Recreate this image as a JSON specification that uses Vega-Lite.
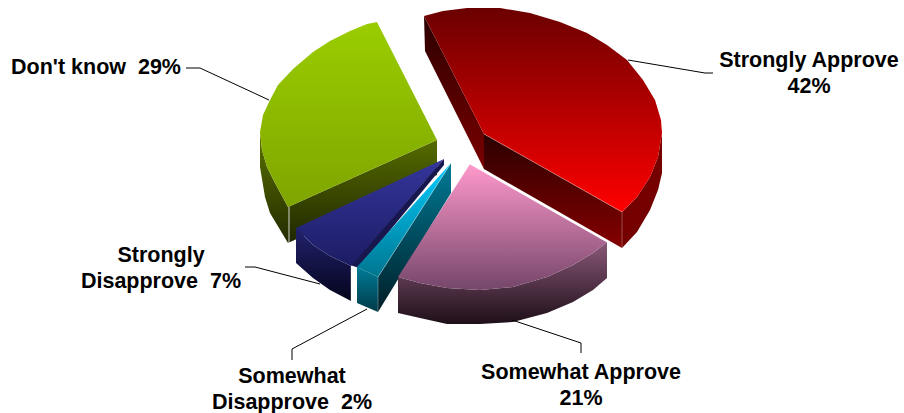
{
  "$schema": "https://vega.github.io/schema/vega-lite/v6.json",
  "autosize": {"type": "none"},
  "padding": 0,
  "width": 904,
  "height": 413,
  "background": "white",
  "config": {"view": {"stroke": null}},
  "datasets": {
    "faces": [
      {"f":"green_side","i":0,"x":260,"y":132},{"f":"green_side","i":1,"x":262,"y":150},{"f":"green_side","i":2,"x":267,"y":167},{"f":"green_side","i":3,"x":275,"y":183},{"f":"green_side","i":4,"x":288,"y":207},{"f":"green_side","i":5,"x":288,"y":243},{"f":"green_side","i":6,"x":270,"y":213},{"f":"green_side","i":7,"x":265,"y":197},{"f":"green_side","i":8,"x":260,"y":167},
      {"f":"green_front","i":0,"x":288,"y":207},{"f":"green_front","i":1,"x":437,"y":140},{"f":"green_front","i":2,"x":437,"y":175},{"f":"green_front","i":3,"x":288,"y":243},
      {"f":"green_top","i":0,"x":437,"y":140},{"f":"green_top","i":1,"x":377,"y":22},{"f":"green_top","i":2,"x":367,"y":24},{"f":"green_top","i":3,"x":350,"y":31},{"f":"green_top","i":4,"x":330,"y":41},{"f":"green_top","i":5,"x":313,"y":52},{"f":"green_top","i":6,"x":293,"y":69},{"f":"green_top","i":7,"x":278,"y":85},{"f":"green_top","i":8,"x":270,"y":100},{"f":"green_top","i":9,"x":263,"y":115},{"f":"green_top","i":10,"x":260,"y":132},{"f":"green_top","i":11,"x":262,"y":150},{"f":"green_top","i":12,"x":267,"y":167},{"f":"green_top","i":13,"x":275,"y":183},{"f":"green_top","i":14,"x":288,"y":207},
      {"f":"red_left","i":0,"x":424,"y":16},{"f":"red_left","i":1,"x":484,"y":134},{"f":"red_left","i":2,"x":484,"y":169},{"f":"red_left","i":3,"x":425,"y":51},
      {"f":"red_front","i":0,"x":484,"y":134},{"f":"red_front","i":1,"x":622,"y":212},{"f":"red_front","i":2,"x":622,"y":248},{"f":"red_front","i":3,"x":484,"y":169},
      {"f":"red_side","i":0,"x":622,"y":212},{"f":"red_side","i":1,"x":637,"y":197},{"f":"red_side","i":2,"x":650,"y":177},{"f":"red_side","i":3,"x":658,"y":157},{"f":"red_side","i":4,"x":662,"y":133},{"f":"red_side","i":5,"x":662,"y":173},{"f":"red_side","i":6,"x":658,"y":190},{"f":"red_side","i":7,"x":650,"y":210},{"f":"red_side","i":8,"x":637,"y":232},{"f":"red_side","i":9,"x":622,"y":248},
      {"f":"red_top","i":0,"x":424,"y":16},{"f":"red_top","i":1,"x":443,"y":11},{"f":"red_top","i":2,"x":467,"y":8},{"f":"red_top","i":3,"x":500,"y":8},{"f":"red_top","i":4,"x":530,"y":13},{"f":"red_top","i":5,"x":560,"y":22},{"f":"red_top","i":6,"x":587,"y":33},{"f":"red_top","i":7,"x":607,"y":45},{"f":"red_top","i":8,"x":627,"y":60},{"f":"red_top","i":9,"x":643,"y":80},{"f":"red_top","i":10,"x":655,"y":100},{"f":"red_top","i":11,"x":661,"y":120},{"f":"red_top","i":12,"x":662,"y":133},{"f":"red_top","i":13,"x":658,"y":157},{"f":"red_top","i":14,"x":650,"y":177},{"f":"red_top","i":15,"x":637,"y":197},{"f":"red_top","i":16,"x":622,"y":212},{"f":"red_top","i":17,"x":484,"y":134},
      {"f":"navy_side","i":0,"x":296,"y":228},{"f":"navy_side","i":1,"x":313,"y":245},{"f":"navy_side","i":2,"x":330,"y":256},{"f":"navy_side","i":3,"x":351,"y":266},{"f":"navy_side","i":4,"x":351,"y":301},{"f":"navy_side","i":5,"x":330,"y":290},{"f":"navy_side","i":6,"x":313,"y":278},{"f":"navy_side","i":7,"x":296,"y":263},
      {"f":"navy_inner","i":0,"x":444,"y":159},{"f":"navy_inner","i":1,"x":444,"y":165},{"f":"navy_inner","i":2,"x":359,"y":268},{"f":"navy_inner","i":3,"x":350,"y":265},
      {"f":"navy_top","i":0,"x":444,"y":159},{"f":"navy_top","i":1,"x":351,"y":266},{"f":"navy_top","i":2,"x":330,"y":256},{"f":"navy_top","i":3,"x":313,"y":245},{"f":"navy_top","i":4,"x":296,"y":228},
      {"f":"cyan_side","i":0,"x":357,"y":267},{"f":"cyan_side","i":1,"x":378,"y":277},{"f":"cyan_side","i":2,"x":378,"y":312},{"f":"cyan_side","i":3,"x":357,"y":303},
      {"f":"cyan_front","i":0,"x":451,"y":163},{"f":"cyan_front","i":1,"x":451,"y":193},{"f":"cyan_front","i":2,"x":378,"y":312},{"f":"cyan_front","i":3,"x":378,"y":277},
      {"f":"cyan_top","i":0,"x":451,"y":163},{"f":"cyan_top","i":1,"x":378,"y":277},{"f":"cyan_top","i":2,"x":357,"y":267},
      {"f":"pink_side","i":0,"x":398,"y":277},{"f":"pink_side","i":1,"x":420,"y":283},{"f":"pink_side","i":2,"x":447,"y":288},{"f":"pink_side","i":3,"x":480,"y":290},{"f":"pink_side","i":4,"x":513,"y":287},{"f":"pink_side","i":5,"x":547,"y":277},{"f":"pink_side","i":6,"x":573,"y":265},{"f":"pink_side","i":7,"x":593,"y":253},{"f":"pink_side","i":8,"x":607,"y":242},{"f":"pink_side","i":9,"x":607,"y":278},{"f":"pink_side","i":10,"x":593,"y":290},{"f":"pink_side","i":11,"x":573,"y":302},{"f":"pink_side","i":12,"x":547,"y":313},{"f":"pink_side","i":13,"x":513,"y":322},{"f":"pink_side","i":14,"x":480,"y":324},{"f":"pink_side","i":15,"x":447,"y":324},{"f":"pink_side","i":16,"x":420,"y":318},{"f":"pink_side","i":17,"x":398,"y":313},
      {"f":"pink_top","i":0,"x":470,"y":164},{"f":"pink_top","i":1,"x":607,"y":242},{"f":"pink_top","i":2,"x":593,"y":253},{"f":"pink_top","i":3,"x":573,"y":265},{"f":"pink_top","i":4,"x":547,"y":277},{"f":"pink_top","i":5,"x":513,"y":287},{"f":"pink_top","i":6,"x":480,"y":290},{"f":"pink_top","i":7,"x":447,"y":288},{"f":"pink_top","i":8,"x":420,"y":283},{"f":"pink_top","i":9,"x":398,"y":277}
    ],
    "bright_edges": [
      {"e":"green_corner","i":0,"x":289,"y":207},{"e":"green_corner","i":1,"x":289,"y":243},
      {"e":"pink_rim","i":0,"x":470,"y":164},{"e":"pink_rim","i":1,"x":607,"y":242}
    ],
    "soft_edges": [
      {"e":"red_corner","i":0,"x":622,"y":212},{"e":"red_corner","i":1,"x":622,"y":248},
      {"e":"red_rim","i":0,"x":484,"y":134},{"e":"red_rim","i":1,"x":622,"y":212},
      {"e":"navy_corner","i":0,"x":351,"y":266},{"e":"navy_corner","i":1,"x":351,"y":301},
      {"e":"cyan_corner","i":0,"x":378,"y":277},{"e":"cyan_corner","i":1,"x":378,"y":312},
      {"e":"cyan_rim","i":0,"x":451,"y":163},{"e":"cyan_rim","i":1,"x":378,"y":277}
    ],
    "leaders": [
      {"slice":"Strongly Approve","i":0,"x":628,"y":60},{"slice":"Strongly Approve","i":1,"x":705,"y":73},{"slice":"Strongly Approve","i":2,"x":713,"y":73},
      {"slice":"Somewhat Approve","i":0,"x":512,"y":320},{"slice":"Somewhat Approve","i":1,"x":581,"y":343},{"slice":"Somewhat Approve","i":2,"x":581,"y":353},
      {"slice":"Somewhat Disapprove","i":0,"x":367,"y":309},{"slice":"Somewhat Disapprove","i":1,"x":292,"y":349},{"slice":"Somewhat Disapprove","i":2,"x":292,"y":360},
      {"slice":"Strongly Disapprove","i":0,"x":320,"y":284},{"slice":"Strongly Disapprove","i":1,"x":255,"y":267},{"slice":"Strongly Disapprove","i":2,"x":245,"y":267},
      {"slice":"Don't know","i":0,"x":269,"y":100},{"slice":"Don't know","i":1,"x":200,"y":68},{"slice":"Don't know","i":2,"x":186,"y":68}
    ],
    "labels": [
      {"slice":"Strongly Approve","share":42,"text":"Strongly Approve\n42%","x":809,"y":61},
      {"slice":"Somewhat Approve","share":21,"text":"Somewhat Approve\n21%","x":581,"y":373},
      {"slice":"Somewhat Disapprove","share":2,"text":"Somewhat\nDisapprove \u00a02%","x":292,"y":377},
      {"slice":"Strongly Disapprove","share":7,"text":"Strongly\nDisapprove \u00a07%","x":161,"y":256},
      {"slice":"Don't know","share":29,"text":"Don't know \u00a029%","x":96,"y":68}
    ]
  },
  "encoding": {
    "x": {"field": "x", "type": "quantitative", "scale": {"domain": [0, 904], "nice": false, "zero": false}, "axis": null},
    "y": {"field": "y", "type": "quantitative", "scale": {"domain": [413, 0], "nice": false, "zero": false}, "axis": null}
  },
  "layer": [
    {"data":{"name":"faces"},"transform":[{"filter":"datum.f==='green_side'"}],"mark":{"type":"line","strokeWidth":0,"fill":{"x1":0,"y1":0,"x2":0,"y2":1,"gradient":"linear","stops":[{"offset":0,"color":"#5c7200"},{"offset":1,"color":"#222b00"}]}},"encoding":{"order":{"field":"i"}}},
    {"data":{"name":"faces"},"transform":[{"filter":"datum.f==='green_front'"}],"mark":{"type":"line","strokeWidth":0,"fill":{"x1":0,"y1":0,"x2":0,"y2":1,"gradient":"linear","stops":[{"offset":0,"color":"#566b00"},{"offset":1,"color":"#1f2700"}]}},"encoding":{"order":{"field":"i"}}},
    {"data":{"name":"faces"},"transform":[{"filter":"datum.f==='green_top'"}],"mark":{"type":"line","strokeWidth":0,"fill":{"x1":0,"y1":0,"x2":0,"y2":1,"gradient":"linear","stops":[{"offset":0,"color":"#9acd00"},{"offset":1,"color":"#7fa500"}]}},"encoding":{"order":{"field":"i"}}},
    {"data":{"name":"faces"},"transform":[{"filter":"datum.f==='red_left'"}],"mark":{"type":"line","strokeWidth":0,"fill":{"x1":0,"y1":0,"x2":0,"y2":1,"gradient":"linear","stops":[{"offset":0,"color":"#2b0000"},{"offset":1,"color":"#7a0000"}]}},"encoding":{"order":{"field":"i"}}},
    {"data":{"name":"faces"},"transform":[{"filter":"datum.f==='red_front'"}],"mark":{"type":"line","strokeWidth":0,"fill":{"x1":0,"y1":0,"x2":0,"y2":1,"gradient":"linear","stops":[{"offset":0,"color":"#2b0000"},{"offset":1,"color":"#850000"}]}},"encoding":{"order":{"field":"i"}}},
    {"data":{"name":"faces"},"transform":[{"filter":"datum.f==='red_side'"}],"mark":{"type":"line","strokeWidth":0,"fill":"#740000"},"encoding":{"order":{"field":"i"}}},
    {"data":{"name":"faces"},"transform":[{"filter":"datum.f==='red_top'"}],"mark":{"type":"line","strokeWidth":0,"fill":{"x1":0,"y1":0,"x2":0,"y2":1,"gradient":"linear","stops":[{"offset":0,"color":"#6b0000"},{"offset":1,"color":"#ff0000"}]}},"encoding":{"order":{"field":"i"}}},
    {"data":{"name":"faces"},"transform":[{"filter":"datum.f==='navy_side'"}],"mark":{"type":"line","strokeWidth":0,"fill":{"x1":0,"y1":0,"x2":0,"y2":1,"gradient":"linear","stops":[{"offset":0,"color":"#22226e"},{"offset":1,"color":"#04041c"}]}},"encoding":{"order":{"field":"i"}}},
    {"data":{"name":"faces"},"transform":[{"filter":"datum.f==='navy_inner'"}],"mark":{"type":"line","strokeWidth":0,"fill":"#18184f"},"encoding":{"order":{"field":"i"}}},
    {"data":{"name":"faces"},"transform":[{"filter":"datum.f==='navy_top'"}],"mark":{"type":"line","strokeWidth":0,"fill":{"x1":0,"y1":0,"x2":0,"y2":1,"gradient":"linear","stops":[{"offset":0,"color":"#35359c"},{"offset":1,"color":"#1c1c64"}]}},"encoding":{"order":{"field":"i"}}},
    {"data":{"name":"faces"},"transform":[{"filter":"datum.f==='cyan_side'"}],"mark":{"type":"line","strokeWidth":0,"fill":{"x1":0,"y1":0,"x2":0,"y2":1,"gradient":"linear","stops":[{"offset":0,"color":"#007c98"},{"offset":1,"color":"#003a48"}]}},"encoding":{"order":{"field":"i"}}},
    {"data":{"name":"faces"},"transform":[{"filter":"datum.f==='cyan_front'"}],"mark":{"type":"line","strokeWidth":0,"fill":{"x1":0,"y1":0,"x2":0,"y2":1,"gradient":"linear","stops":[{"offset":0,"color":"#007a96"},{"offset":1,"color":"#001e26"}]}},"encoding":{"order":{"field":"i"}}},
    {"data":{"name":"faces"},"transform":[{"filter":"datum.f==='cyan_top'"}],"mark":{"type":"line","strokeWidth":0,"fill":{"x1":0,"y1":0,"x2":0,"y2":1,"gradient":"linear","stops":[{"offset":0,"color":"#00ccff"},{"offset":1,"color":"#00768f"}]}},"encoding":{"order":{"field":"i"}}},
    {"data":{"name":"faces"},"transform":[{"filter":"datum.f==='pink_side'"}],"mark":{"type":"line","strokeWidth":0,"fill":{"x1":0,"y1":0,"x2":0,"y2":1,"gradient":"linear","stops":[{"offset":0,"color":"#8a5878"},{"offset":1,"color":"#1e0f18"}]}},"encoding":{"order":{"field":"i"}}},
    {"data":{"name":"faces"},"transform":[{"filter":"datum.f==='pink_top'"}],"mark":{"type":"line","strokeWidth":0,"fill":{"x1":0,"y1":0,"x2":0,"y2":1,"gradient":"linear","stops":[{"offset":0,"color":"#ff99cc"},{"offset":1,"color":"#75466a"}]}},"encoding":{"order":{"field":"i"}}},
    {"data":{"name":"soft_edges"},"mark":{"type":"line","stroke":"#ffffff","strokeWidth":1,"strokeOpacity":0.3},"encoding":{"detail":{"field":"e"},"order":{"field":"i"}}},
    {"data":{"name":"bright_edges"},"mark":{"type":"line","stroke":"#ffffff","strokeWidth":1,"strokeOpacity":0.8},"encoding":{"detail":{"field":"e"},"order":{"field":"i"}}},
    {"data":{"name":"leaders"},"mark":{"type":"line","stroke":"#000000","strokeWidth":1},"encoding":{"detail":{"field":"slice"},"order":{"field":"i"}}},
    {"data":{"name":"labels"},"mark":{"type":"text","font":"Liberation Sans","fontWeight":"bold","fontSize":21.5,"lineHeight":26,"lineBreak":"\n","align":"center","baseline":"middle","color":"#000000"},"encoding":{"text":{"field":"text"}}}
  ]
}
